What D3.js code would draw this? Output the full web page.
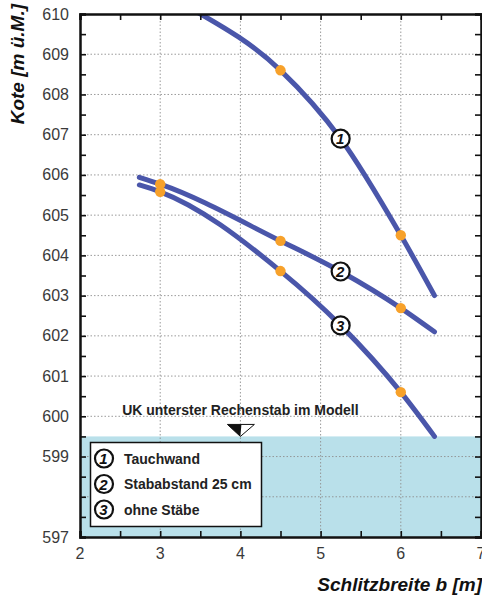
<!DOCTYPE html>
<html>
<head>
<meta charset="utf-8">
<script src="https://cdn.jsdelivr.net/npm/d3@7"></script>
<style>
  html, body { margin: 0; padding: 0; background: #fff; }
  svg { display: block; font-family: "Liberation Sans", Arial, sans-serif; }
</style>
</head>
<body>
<script>
// Kurven, je Kurve Stützpunkte [b, Kote]
const kurve1 = [[3.46, 610.05], [4.5, 608.6], [5.25, 606.9], [6, 604.5], [6.42, 603.0]]
const kurve2 = [[2.74, 605.94], [3, 605.77], [4.5, 604.36], [5.25, 603.6], [6, 602.69], [6.42, 602.1]]
const kurve3 = [[2.74, 605.75], [3, 605.58], [4.5, 603.61], [5.25, 602.26], [6, 600.6], [6.42, 599.5]]

// Messpunkte (orange)
const punkte1 = [[4.5, 608.6], [6, 604.5]]
const punkte2 = [[3, 605.77], [4.5, 604.36], [6, 602.69]]
const punkte3 = [[3, 605.58], [4.5, 603.61], [6, 600.6]]

// Kurvenbeschriftung
const kurvenNummern = ['1', '2', '3']
const nummernPos = [[5.25, 606.9], [5.25, 603.6], [5.25, 602.26]]

const legendeTexte = ['Tauchwand', 'Stababstand 25 cm', 'ohne Stäbe']

const xTicks = [2, 3, 4, 5, 6, 7]
const yTickLabels = [597, 599, 600, 601, 602, 603, 604, 605, 606, 607, 608, 609, 610]
const xGrid = [3, 4, 5, 6]
const yGrid = [598, 599, 600, 601, 602, 603, 604, 605, 606, 607, 608, 609]

const ukKote = 599.5
const ukB = 4
const ukText = 'UK unterster Rechenstab im Modell'

const W = 482, H = 596
const x = d3.scaleLinear().domain([2, 7]).range([80, 481])
const y = d3.scaleLinear().domain([597, 610]).range([537, 14])

const svg = d3.select('body').append('svg')
  .attr('width', W).attr('height', H)

svg.append('clipPath').attr('id', 'plot')
  .append('rect')
  .attr('x', x(2)).attr('y', y(610))
  .attr('width', x(7) - x(2)).attr('height', y(597) - y(610))

// blauer Bereich unter UK
svg.append('rect')
  .attr('x', x(2)).attr('y', y(ukKote))
  .attr('width', x(7) - x(2)).attr('height', y(597) - y(ukKote))
  .attr('fill', '#b9e0ea')

// Gitter
const grid = svg.append('g')
  .attr('stroke', '#8f8f8f').attr('stroke-width', 0.9).attr('stroke-dasharray', '1.5,2')
grid.selectAll('.gx').data(xGrid).enter().append('line')
  .attr('x1', d => x(d)).attr('x2', d => x(d))
  .attr('y1', y(610)).attr('y2', y(597))
grid.selectAll('.gy').data(yGrid).enter().append('line')
  .attr('x1', x(2)).attr('x2', x(7))
  .attr('y1', d => y(d)).attr('y2', d => y(d))

// Legende
const leg = svg.append('g')
leg.append('rect')
  .attr('x', 90.5).attr('y', 442.5).attr('width', 171).attr('height', 84)
  .attr('fill', '#fff').attr('stroke', '#111').attr('stroke-width', 1.5)

function nummer(g, cx, cy, t) {
  g.append('circle').attr('cx', cx).attr('cy', cy).attr('r', 9)
    .attr('fill', '#fff').attr('stroke', '#111').attr('stroke-width', 2.2)
  g.append('text').attr('x', cx - 0.5).attr('y', cy + 5.5)
    .attr('text-anchor', 'middle')
    .attr('font-size', 15).attr('font-weight', 'bold').attr('font-style', 'italic')
    .attr('fill', '#111').text(t)
}

legendeTexte.forEach((t, i) => {
  const cy = 458.5 + i * 25.5
  nummer(leg, 104, cy, kurvenNummern[i])
  leg.append('text').attr('x', 124).attr('y', cy + 5)
    .attr('font-size', 14).attr('font-weight', 'bold').attr('fill', '#222')
    .text(t)
})

// UK Markierung
svg.append('text')
  .attr('x', x(ukB)).attr('y', 415)
  .attr('text-anchor', 'middle')
  .attr('font-size', 14).attr('font-weight', 'bold').attr('fill', '#222')
  .text(ukText)
const tx = x(ukB), ty = y(ukKote)
svg.append('path')
  .attr('d', `M${tx - 13},${ty - 12}L${tx + 14},${ty - 12}L${tx},${ty}Z`)
  .attr('fill', '#fff').attr('stroke', '#111').attr('stroke-width', 1)
svg.append('path')
  .attr('d', `M${tx - 13},${ty - 12}L${tx + 1},${ty - 12}L${tx},${ty}Z`)
  .attr('fill', '#111')

// Kurven
const line = d3.line().x(d => x(d[0])).y(d => y(d[1])).curve(d3.curveMonotoneX)
const curves = svg.append('g').attr('clip-path', 'url(#plot)')
;[kurve1, kurve2, kurve3].forEach(k => {
  curves.append('path').attr('d', line(k))
    .attr('fill', 'none').attr('stroke', '#4a56aa')
    .attr('stroke-width', 5).attr('stroke-linecap', 'round')
})

// Messpunkte
;[punkte1, punkte2, punkte3].forEach(p => {
  curves.selectAll(null).data(p).enter().append('circle')
    .attr('cx', d => x(d[0])).attr('cy', d => y(d[1])).attr('r', 5.2)
    .attr('fill', '#f7a12a')
})

// Nummern an den Kurven
nummernPos.forEach((p, i) => nummer(svg.append('g'), x(p[0]), y(p[1]), kurvenNummern[i]))

// Achsen
const minorX = d3.range(2, 7.01, 0.5)
const minorY = d3.range(597, 610.01, 0.5)

svg.append('g').attr('transform', `translate(0,${y(597)})`)
  .call(d3.axisBottom(x).tickValues(minorX).tickSize(-6).tickFormat(''))
svg.append('g').attr('transform', `translate(0,${y(610)})`)
  .call(d3.axisTop(x).tickValues(minorX).tickSize(-6).tickFormat(''))
svg.append('g').attr('transform', `translate(${x(2)},0)`)
  .call(d3.axisLeft(y).tickValues(minorY).tickSize(-6).tickFormat(''))
svg.append('g').attr('transform', `translate(${x(7)},0)`)
  .call(d3.axisRight(y).tickValues(minorY).tickSize(-6).tickFormat(''))

svg.selectAll('.domain').attr('stroke', '#111').attr('stroke-width', 2.5)
svg.selectAll('.tick line').attr('stroke', '#111').attr('stroke-width', 1.6)

// Beschriftungen der Achsen
svg.append('g').selectAll('text').data(yTickLabels).enter().append('text')
  .attr('x', 69).attr('y', d => y(d) + 5.5)
  .attr('text-anchor', 'end').attr('font-size', 16).attr('fill', '#3a3a3a')
  .text(d => d)
svg.append('g').selectAll('text').data(xTicks).enter().append('text')
  .attr('x', d => x(d)).attr('y', 559)
  .attr('text-anchor', 'middle').attr('font-size', 16).attr('fill', '#3a3a3a')
  .text(d => d)

svg.append('text')
  .attr('transform', 'translate(24,4) rotate(-90)')
  .attr('text-anchor', 'end')
  .attr('font-size', 19).attr('font-weight', 'bold').attr('font-style', 'italic')
  .attr('fill', '#111')
  .text('Kote [m ü.M.]')

svg.append('text')
  .attr('x', 482).attr('y', 591)
  .attr('text-anchor', 'end')
  .attr('font-size', 19).attr('font-weight', 'bold').attr('font-style', 'italic')
  .attr('fill', '#111')
  .text('Schlitzbreite b [m]')
</script>
</body>
</html>
